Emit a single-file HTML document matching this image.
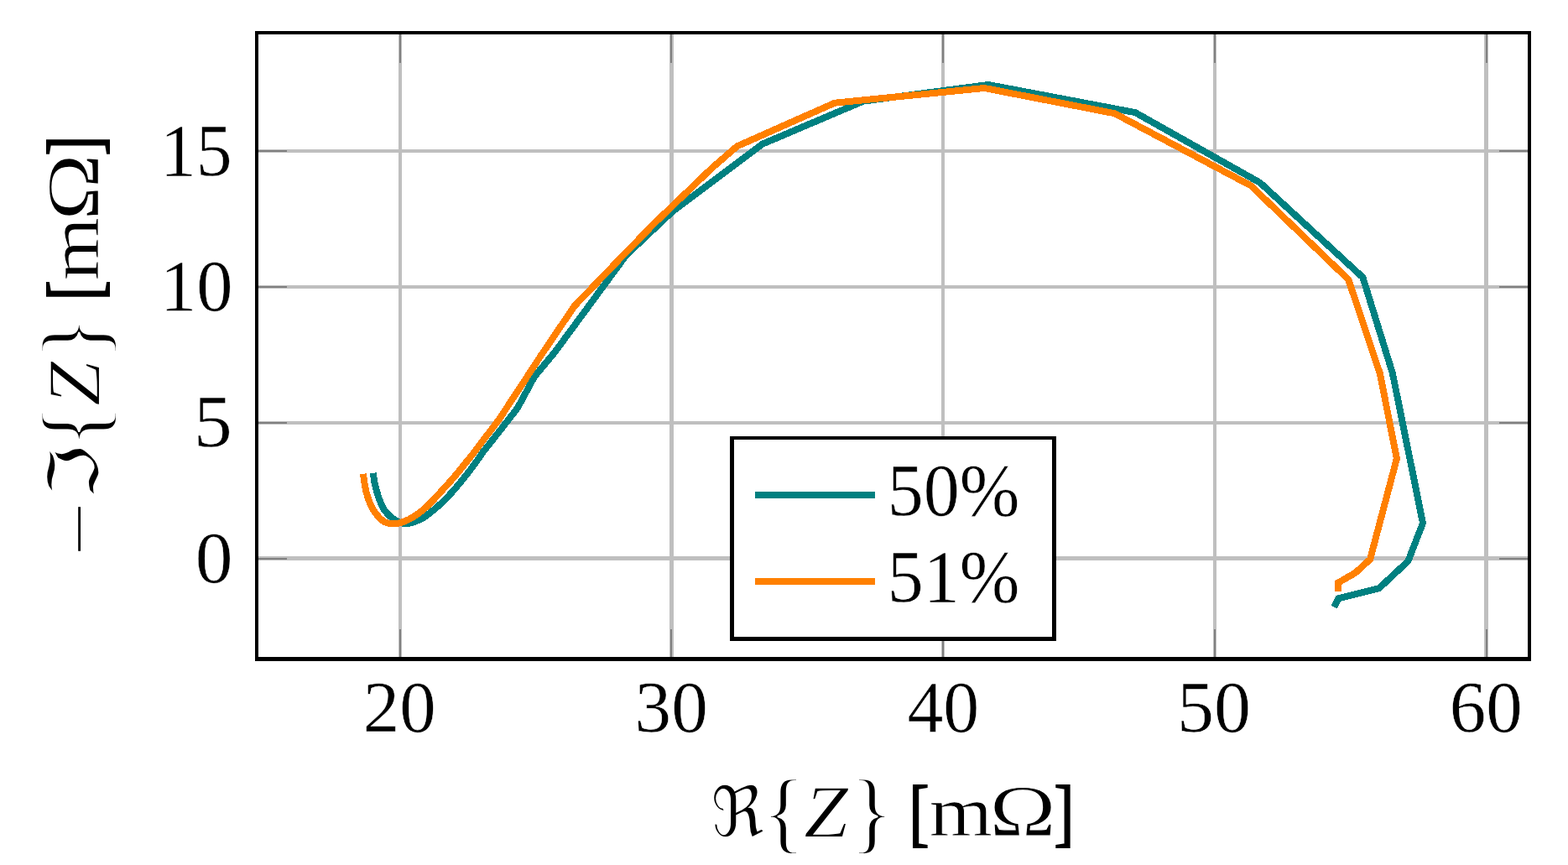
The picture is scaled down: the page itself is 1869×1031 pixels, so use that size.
<!DOCTYPE html>
<html lang="en">
<head>
<meta charset="utf-8">
<title>Nyquist plot</title>
<style>
html,body{margin:0;padding:0;background:#ffffff;}
body{width:1869px;height:1031px;overflow:hidden;}
svg{display:block;}
text{fill:#000000;}
</style>
</head>
<body>
<svg width="1869" height="1031" viewBox="0 0 1869 1031">
<rect x="0" y="0" width="1869" height="1031" fill="#ffffff"/>
<g shape-rendering="crispEdges">
<g fill="#bfbfbf">
<rect x="475" y="41" width="4" height="742"/>
<rect x="798" y="41" width="5" height="742"/>
<rect x="1122" y="41" width="4" height="742"/>
<rect x="1446" y="41" width="4" height="742"/>
<rect x="1769" y="41" width="5" height="742"/>
<rect x="308" y="178" width="1513" height="4"/>
<rect x="308" y="340" width="1513" height="4"/>
<rect x="308" y="502" width="1513" height="4"/>
<rect x="308" y="663" width="1513" height="5"/>
</g>
<g fill="#808080">
<rect x="476" y="41" width="2" height="34"/>
<rect x="476" y="750" width="2" height="33"/>
<rect x="799" y="41" width="2" height="34"/>
<rect x="799" y="750" width="2" height="33"/>
<rect x="1123" y="41" width="2" height="34"/>
<rect x="1123" y="750" width="2" height="33"/>
<rect x="1447" y="41" width="2" height="34"/>
<rect x="1447" y="750" width="2" height="33"/>
<rect x="1771" y="41" width="2" height="34"/>
<rect x="1771" y="750" width="2" height="33"/>
<rect x="308" y="179" width="34" height="2"/>
<rect x="1787" y="179" width="34" height="2"/>
<rect x="308" y="341" width="34" height="2"/>
<rect x="1787" y="341" width="34" height="2"/>
<rect x="308" y="503" width="34" height="2"/>
<rect x="1787" y="503" width="34" height="2"/>
<rect x="308" y="665" width="34" height="2"/>
<rect x="1787" y="665" width="34" height="2"/>
</g>
<polyline points="444.8,563.8 445.1,566.2 445.6,569.6 446.2,573.6 447.0,577.5 447.9,581.4 449.0,585.5 450.3,589.6 451.6,593.5 453.0,597.2 454.5,600.8 456.1,604.3 457.9,607.4 459.9,610.2 462.2,612.7 464.5,615.0 466.8,617.0 469.1,618.7 471.4,620.2 473.7,621.4 476.0,622.4 478.2,623.2 480.4,623.7 482.6,624.0 484.9,624.0 487.4,623.7 490.1,623.1 492.9,622.3 495.6,621.3 498.1,620.3 500.6,619.3 503.2,617.9 506.3,616.0 509.9,613.4 514.0,610.2 518.3,606.7 522.4,603.1 526.4,599.4 530.4,595.5 534.4,591.4 538.4,587.1 542.5,582.4 546.8,577.3 550.9,572.3 554.5,567.8 557.6,563.9 560.3,560.5 562.7,557.2 565.2,553.9 567.9,550.1 570.7,546.1 573.1,542.5 574.8,540.0 601.0,506.8 617.1,486.0 637.0,448.9 661.1,420.0 746.3,304.3 801.7,252.0 909.0,171.6 1029.0,120.6 1178.0,101.0 1353.1,134.1 1502.1,217.9 1624.4,330.6 1659.8,444.6 1696.0,623.5 1678.4,668.8 1643.7,701.3 1595.4,713.4 1590.4,723.6" fill="none" stroke="#008080" stroke-width="8.0" stroke-linejoin="miter" stroke-linecap="butt"/>
<polyline points="433.0,564.8 433.4,568.1 434.0,572.7 434.8,577.9 435.7,582.8 436.8,587.2 438.0,591.7 439.5,595.9 441.0,599.9 442.7,603.5 444.5,606.8 446.4,609.9 448.5,612.8 450.8,615.5 453.2,618.0 455.7,620.2 458.2,621.9 460.7,623.1 463.3,623.8 465.9,624.2 468.5,624.3 471.1,624.2 473.8,623.9 476.6,623.3 479.5,622.4 482.6,621.2 485.9,619.8 489.3,618.1 492.8,616.0 496.5,613.6 500.4,610.8 504.3,607.6 508.3,604.2 512.3,600.3 516.4,596.1 520.5,591.6 524.6,587.1 528.7,582.6 532.9,578.0 537.1,573.4 541.0,568.9 544.8,564.4 548.5,559.9 551.9,555.6 555.0,551.8 557.8,548.3 560.4,545.1 562.5,542.5 564.0,540.6 594.5,500.4 621.0,460.3 644.3,424.5 684.7,364.8 744.3,302.8 780.2,266.0 848.9,200.0 878.6,174.3 995.0,122.7 1173.4,105.0 1328.6,135.2 1490.9,221.2 1607.2,333.1 1644.8,445.0 1664.9,546.5 1633.1,666.7 1615.6,682.7 1595.0,694.6 1595.0,704.9" fill="none" stroke="#ff8000" stroke-width="8.0" stroke-linejoin="miter" stroke-linecap="butt"/>
<path fill="#000000" fill-rule="evenodd" d="M304 37H1825V788H304Z M308 41H1821V783H308Z"/>
<rect x="870" y="520" width="389" height="244" fill="#000000"/>
<rect x="875" y="524" width="379" height="235" fill="#ffffff"/>
<rect x="900" y="586" width="143" height="8" fill="#008080"/>
<rect x="900" y="689" width="143" height="8" fill="#ff8000"/>
</g>
<g>
<text font-family="'Liberation Serif',serif" x="432.74" y="872.28" font-size="86.81" textLength="86.87" lengthAdjust="spacingAndGlyphs" stroke="#ffffff" stroke-width="0.50">20</text>
<text font-family="'Liberation Serif',serif" x="756.61" y="872.28" font-size="86.81" textLength="87.10" lengthAdjust="spacingAndGlyphs" stroke="#ffffff" stroke-width="0.50">30</text>
<text font-family="'Liberation Serif',serif" x="1081.43" y="872.28" font-size="86.81" textLength="85.84" lengthAdjust="spacingAndGlyphs" stroke="#ffffff" stroke-width="0.50">40</text>
<text font-family="'Liberation Serif',serif" x="1402.99" y="872.28" font-size="86.81" textLength="88.07" lengthAdjust="spacingAndGlyphs" stroke="#ffffff" stroke-width="0.50">50</text>
<text font-family="'Liberation Serif',serif" x="1727.85" y="872.48" font-size="87.11" textLength="86.96" lengthAdjust="spacingAndGlyphs" stroke="#ffffff" stroke-width="0.50">60</text>
<text font-family="'Liberation Serif',serif" x="190.94" y="208.57" font-size="88.06" textLength="85.85" lengthAdjust="spacingAndGlyphs" stroke="#ffffff" stroke-width="0.50">15</text>
<text font-family="'Liberation Serif',serif" x="190.88" y="370.38" font-size="87.41" textLength="86.51" lengthAdjust="spacingAndGlyphs" stroke="#ffffff" stroke-width="0.50">10</text>
<text font-family="'Liberation Serif',serif" x="230.75" y="531.87" font-size="87.97" textLength="46.09" lengthAdjust="spacingAndGlyphs" stroke="#ffffff" stroke-width="0.50">5</text>
<text font-family="'Liberation Serif',serif" x="232.69" y="693.58" font-size="87.26" textLength="44.82" lengthAdjust="spacingAndGlyphs" stroke="#ffffff" stroke-width="0.50">0</text>
<text font-family="'Liberation Serif',serif" x="1057.81" y="614.03" font-size="89.30" textLength="157.58" lengthAdjust="spacingAndGlyphs" stroke="#ffffff" stroke-width="0.50">50%</text>
<text font-family="'Liberation Serif',serif" x="1057.81" y="717.03" font-size="89.30" textLength="157.58" lengthAdjust="spacingAndGlyphs" stroke="#ffffff" stroke-width="0.50">51%</text>
<text font-family="'Liberation Serif',serif" font-size="82"><tspan x="847.17" y="996.64" font-size="83.96" textLength="63.73" lengthAdjust="spacingAndGlyphs" font-family="'DejaVu Sans',sans-serif" stroke="#ffffff" stroke-width="1.60">ℜ</tspan><tspan x="908.05" y="1004.49" font-size="107.47" textLength="52.00" lengthAdjust="spacingAndGlyphs" stroke="#ffffff" stroke-width="2.20">{</tspan><tspan x="957.91" y="997.00" font-size="89.92" textLength="53.15" lengthAdjust="spacingAndGlyphs" font-style="italic" stroke="#ffffff" stroke-width="1.40">Z</tspan><tspan x="1013.02" y="1004.49" font-size="107.47" textLength="52.16" lengthAdjust="spacingAndGlyphs" stroke="#ffffff" stroke-width="2.20">}</tspan><tspan> </tspan><tspan x="1083.61" y="998.05" font-size="89.28" textLength="23.95" lengthAdjust="spacingAndGlyphs" stroke="#000000" stroke-width="2.00" stroke-linejoin="miter">[</tspan><tspan x="1107.66" y="996.20" font-size="84.04" textLength="75.32" lengthAdjust="spacingAndGlyphs" stroke="#ffffff" stroke-width="0.80">m</tspan><tspan x="1179.17" y="996.40" font-size="87.70" textLength="79.66" lengthAdjust="spacingAndGlyphs" stroke="#ffffff" stroke-width="1.20">Ω</tspan><tspan x="1256.51" y="998.05" font-size="89.28" textLength="23.68" lengthAdjust="spacingAndGlyphs" stroke="#000000" stroke-width="2.00" stroke-linejoin="miter">]</tspan></text>
<text font-family="'Liberation Serif',serif" font-size="82" transform="translate(0,1031) rotate(-90)"><tspan x="368.54" y="113.74" font-size="58.00" textLength="63.80" lengthAdjust="spacingAndGlyphs">−</tspan><tspan x="434.66" y="116.66" font-size="82.90" textLength="66.47" lengthAdjust="spacingAndGlyphs" font-family="'DejaVu Sans',sans-serif" stroke="#ffffff" stroke-width="1.60">ℑ</tspan><tspan x="497.15" y="124.99" font-size="107.47" textLength="52.00" lengthAdjust="spacingAndGlyphs" stroke="#ffffff" stroke-width="2.20">{</tspan><tspan x="547.01" y="117.50" font-size="89.92" textLength="53.15" lengthAdjust="spacingAndGlyphs" font-style="italic" stroke="#ffffff" stroke-width="1.40">Z</tspan><tspan x="602.12" y="124.99" font-size="107.47" textLength="52.16" lengthAdjust="spacingAndGlyphs" stroke="#ffffff" stroke-width="2.20">}</tspan><tspan> </tspan><tspan x="672.71" y="118.13" font-size="89.40" textLength="23.95" lengthAdjust="spacingAndGlyphs" stroke="#000000" stroke-width="2.00" stroke-linejoin="miter">[</tspan><tspan x="696.76" y="116.70" font-size="84.04" textLength="75.32" lengthAdjust="spacingAndGlyphs" stroke="#ffffff" stroke-width="0.80">m</tspan><tspan x="767.94" y="116.90" font-size="88.00" textLength="80.12" lengthAdjust="spacingAndGlyphs" stroke="#ffffff" stroke-width="1.20">Ω</tspan><tspan x="845.61" y="118.13" font-size="89.40" textLength="23.68" lengthAdjust="spacingAndGlyphs" stroke="#000000" stroke-width="2.00" stroke-linejoin="miter">]</tspan></text>
</g>
</svg>
</body>
</html>
